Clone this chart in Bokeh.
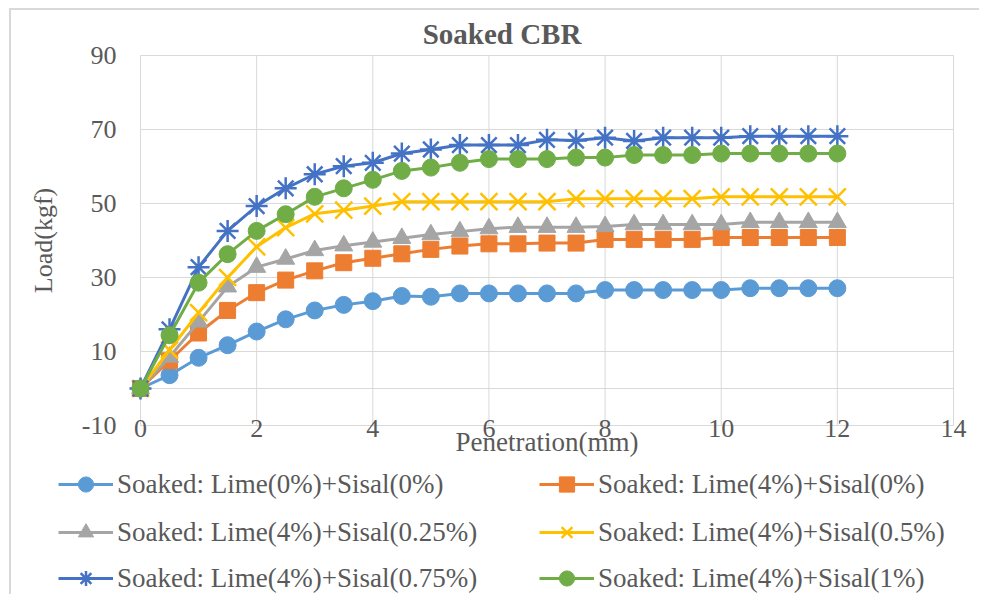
from bokeh.plotting import figure
from bokeh.models import Legend, LegendItem, Label
from bokeh.embed import file_html
from bokeh.resources import INLINE

# ---------------- data ----------------
penetration = [0, 0.5, 1, 1.5, 2, 2.5, 3, 3.5, 4, 4.5, 5, 5.5, 6,
               6.5, 7, 7.5, 8, 8.5, 9, 9.5, 10, 10.5, 11, 11.5, 12]

lime0_sisal0 = [0, 3.6, 8.3, 11.7, 15.4, 18.7, 21.1, 22.6, 23.6, 25.0, 24.8, 25.7, 25.7,
                25.7, 25.7, 25.7, 26.6, 26.6, 26.6, 26.6, 26.6, 27.1, 27.1, 27.1, 27.1]
lime4_sisal0 = [0, 7.5, 15.0, 21.1, 25.9, 29.3, 31.8, 34.0, 35.2, 36.4, 37.6, 38.5, 39.1,
                39.1, 39.3, 39.3, 40.3, 40.3, 40.3, 40.3, 40.8, 40.8, 40.8, 40.8, 40.8]
lime4_sisal025 = [0, 8.5, 18.0, 27.5, 32.8, 35.0, 37.3, 38.6, 39.6, 40.6, 41.6, 42.4, 43.2,
                  43.6, 43.6, 43.6, 43.8, 44.3, 44.3, 44.3, 44.3, 44.9, 44.9, 44.9, 44.9]
lime4_sisal05 = [0, 10.4, 20.5, 30.0, 38.3, 43.5, 47.2, 48.2, 49.3, 50.5, 50.5, 50.5, 50.5,
                 50.5, 50.5, 51.3, 51.3, 51.3, 51.3, 51.3, 51.8, 51.8, 51.8, 51.8, 51.8]
lime4_sisal075 = [0, 16.0, 32.8, 42.6, 49.3, 54.1, 57.9, 60.1, 61.0, 63.5, 64.6, 65.8, 65.8,
                  65.8, 67.2, 67.0, 67.8, 66.9, 67.8, 67.8, 67.8, 68.2, 68.2, 68.2, 68.2]
lime4_sisal1 = [0, 14.4, 28.6, 36.3, 42.6, 47.1, 51.8, 54.1, 56.4, 58.8, 59.7, 61.0, 62.0,
                62.0, 62.0, 62.4, 62.4, 63.1, 63.1, 63.1, 63.5, 63.5, 63.5, 63.5, 63.5]

series_names = ["Soaked: Lime(0%)+Sisal(0%)", "Soaked: Lime(4%)+Sisal(0%)",
                "Soaked: Lime(4%)+Sisal(0.25%)", "Soaked: Lime(4%)+Sisal(0.5%)",
                "Soaked: Lime(4%)+Sisal(0.75%)", "Soaked: Lime(4%)+Sisal(1%)"]
series_values = [lime0_sisal0, lime4_sisal0, lime4_sisal025,
                 lime4_sisal05, lime4_sisal075, lime4_sisal1]

x_ticks = [0, 2, 4, 6, 8, 10, 12, 14]
y_ticks = [-10, 10, 30, 50, 70, 90]
y_tick_labels = {-10: "-10"}

title_text = "Soaked CBR"
x_title = "Penetration(mm)"
y_title = "Load(kgf)"

# ---------------- layout (pixels) ----------------
W, H = 970, 586                 # canvas size
PLOT_L, PLOT_R = 129, 942       # plot area in canvas pixels
PLOT_T, PLOT_B = 45, 415
X0, X1 = x_ticks[0], x_ticks[-1]
Y0, Y1 = y_ticks[0], y_ticks[-1]
kx = (PLOT_R - PLOT_L) / (X1 - X0)
ky = (PLOT_B - PLOT_T) / (Y1 - Y0)
x_range = (X0 - PLOT_L / kx, X1 + (W - PLOT_R) / kx)
y_range = (Y0 - (H - PLOT_B) / ky, Y1 + PLOT_T / ky)

colors = ["#5B9BD5", "#ED7D31", "#A5A5A5", "#FFC000", "#4472C4", "#70AD47"]
markers = ["circle", "square", "triangle", "x", "asterisk", "circle"]
sizes = [17, 16, 18, 24, 22, 17]
TXT = "#595959"
GRID = "#D9D9D9"
FONT = "Liberation Serif"

p = figure(width=W, height=H, x_range=x_range, y_range=y_range,
           output_backend="svg", toolbar_location=None,
           min_border_left=0, min_border_right=0,
           min_border_top=0, min_border_bottom=0)
p.title.visible = False
p.styles = {"margin-left": "9px", "margin-top": "8px",
            "border-left": "2px solid #D9D9D9", "border-top": "2px solid #D9D9D9"}
p.background_fill_color = "white"
p.border_fill_color = "white"
p.outline_line_color = None
p.xgrid.visible = False
p.ygrid.visible = False

# gridlines of the plot area (from the tick arrays)
p.segment(x0=x_ticks, y0=[Y0] * len(x_ticks), x1=x_ticks, y1=[Y1] * len(x_ticks),
          line_color=GRID, line_width=1)
p.segment(x0=[X0] * len(y_ticks), y0=y_ticks, x1=[X1] * len(y_ticks), y1=y_ticks,
          line_color=GRID, line_width=1)
# horizontal axis line at zero
p.segment(x0=[X0], y0=[0], x1=[X1], y1=[0], line_color=GRID, line_width=1)

p.xaxis.ticker = x_ticks
p.yaxis.ticker = y_ticks
p.yaxis.major_label_overrides = y_tick_labels
p.xaxis.fixed_location = Y0
p.yaxis.fixed_location = X0
p.xaxis.bounds = (X0, X1)
p.yaxis.bounds = (Y0, Y1)
for ax in [p.xaxis[0], p.yaxis[0]]:
    ax.axis_line_color = None
    ax.major_tick_line_color = None
    ax.minor_tick_line_color = None
    ax.major_tick_out = 0
    ax.major_tick_in = 0
    ax.major_label_text_font = FONT
    ax.major_label_text_font_size = "26px"
    ax.major_label_text_color = TXT
    ax.axis_label_text_font = FONT
    ax.axis_label_text_font_style = "normal"
    ax.axis_label_text_color = TXT
p.yaxis.major_label_standoff = 24
p.xaxis.major_label_standoff = -6
p.xaxis.axis_label = x_title
p.xaxis.axis_label_text_font_size = "27px"
p.xaxis.axis_label_standoff = -13
p.yaxis.axis_label = y_title
p.yaxis.axis_label_text_font_size = "26px"
p.yaxis.axis_label_standoff = 21

items = []
for name, ys, c, m, s in zip(series_names, series_values, colors, markers, sizes):
    lr = p.line(penetration, ys, line_color=c, line_width=3)
    if m in ("x", "asterisk"):
        sr = p.scatter(penetration, ys, marker=m, size=s, line_color=c, line_width=2.5,
                       fill_color=None)
    else:
        sr = p.scatter(penetration, ys, marker=m, size=s, line_color=c, fill_color=c,
                       line_width=1)
    items.append(LegendItem(label=name, renderers=[lr, sr]))

legend_rows_bottom = [93, 45, -1]   # distance of each legend row box from canvas bottom
for r in range(3):
    leg = Legend(items=items[2 * r:2 * r + 2], location=(47, legend_rows_bottom[r]),
                 orientation="horizontal", padding=0, margin=0, spacing=0,
                 glyph_width=55, glyph_height=38, label_standoff=4,
                 label_width=422, label_height=30,
                 label_text_font=FONT, label_text_font_size="27px",
                 label_text_color=TXT,
                 border_line_color=None, background_fill_color=None)
    p.add_layout(leg, "center")

title_x = X0 + (501.5 - 11 - PLOT_L) / kx
title_y = Y1 + (PLOT_T - 23) / ky
p.add_layout(Label(x=title_x, y=title_y, text=title_text, text_font=FONT,
                   text_font_size="29px", text_font_style="bold", text_color=TXT,
                   text_align="center", text_baseline="middle"))

open("out.html", "w").write(file_html(p, INLINE))
